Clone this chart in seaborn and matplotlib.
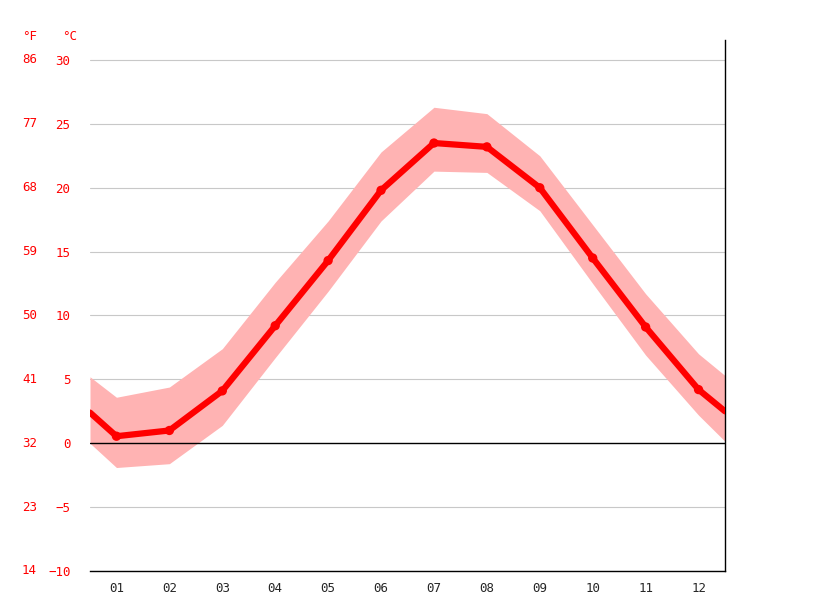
import numpy as np
import pandas as pd
import matplotlib
matplotlib.use("Agg")
import matplotlib.pyplot as plt
import matplotlib.transforms as mtransforms
import seaborn as sns

# monthly mean temperature (°C) with edge values at the plot borders
months = [0.5, 1, 2, 3, 4, 5, 6, 7, 8, 9, 10, 11, 12, 12.5]
temp_mean = [2.4, 0.55, 1.0, 4.1, 9.2, 14.3, 19.8, 23.5, 23.2, 20.0, 14.5, 9.1, 4.2, 2.5]
temp_high = [5.2, 3.6, 4.4, 7.4, 12.6, 17.4, 22.8, 26.3, 25.8, 22.5, 17.1, 11.7, 7.0, 5.3]
temp_low = [0.0, -1.9, -1.6, 1.4, 6.7, 11.9, 17.4, 21.3, 21.2, 18.2, 12.5, 6.9, 2.2, 0.15]
month_labels = ["01", "02", "03", "04", "05", "06", "07", "08", "09", "10", "11", "12"]
c_ticks = [-10, -5, 0, 5, 10, 15, 20, 25, 30]
c_labels = ["\u221210", "\u22125", "0", "5", "10", "15", "20", "25", "30"]
f_labels = ["14", "23", "32", "41", "50", "59", "68", "77", "86"]

df = pd.DataFrame({"month": months, "mean": temp_mean, "high": temp_high, "low": temp_low})
pts = df[(df.month >= 1) & (df.month <= 12)]

sns.set_style("white")
plt.rcParams["font.family"] = ["DejaVu Sans Mono", "DejaVu Sans"]

fig = plt.figure(figsize=(8.15, 6.11), dpi=100)
ax = fig.add_axes([90 / 815, 1 - 571 / 611, 635 / 815, 531 / 611])

ax.fill_between(df["month"], df["low"], df["high"], color="#ffb3b3", lw=0, zorder=1)
for t in c_ticks:
    if t != 0:
        ax.axhline(t, color="#c8c8c8", lw=0.8, zorder=0)
ax.axhline(0, color="black", lw=1, zorder=2)
sns.lineplot(data=df, x="month", y="mean", color="red", lw=4.5, ax=ax, zorder=3)
sns.scatterplot(data=pts, x="month", y="mean", color="red", s=45, edgecolor="none", ax=ax, zorder=4)

ax.set_xlim(0.5, 12.5)
ax.set_ylim(-10, 30 + 20 / 12.78)
ax.set_xlabel("")
ax.set_ylabel("")

ax.set_xticks(range(1, 13))
ax.set_xticklabels(month_labels, fontsize=9)
ax.set_xticks(np.arange(0.5, 13, 1), minor=True)
ax.tick_params(axis="x", which="major", length=0, pad=8)
ax.tick_params(axis="x", which="minor", length=5, color="black", direction="out")

ax.set_yticks(c_ticks)
ax.set_yticklabels(c_labels, fontsize=9, color="red")
ax.tick_params(axis="y", length=0, pad=14)

trans = mtransforms.blended_transform_factory(fig.transFigure, ax.transData)
for t, lab in zip(c_ticks, f_labels):
    ax.text(37 / 815, t, lab, transform=trans, ha="right", va="center", fontsize=9, color="red")
fig.text(30 / 815, 1 - 36 / 611, "\u00b0F", ha="center", va="center", fontsize=9, color="red")
fig.text(70 / 815, 1 - 36 / 611, "\u00b0C", ha="center", va="center", fontsize=9, color="red")

for s in ["top", "left"]:
    ax.spines[s].set_visible(False)
ax.spines["right"].set_color("black")
ax.spines["bottom"].set_color("black")
ax.spines["right"].set_linewidth(1)
ax.spines["bottom"].set_linewidth(1)

fig.savefig("out.png", dpi=100)
